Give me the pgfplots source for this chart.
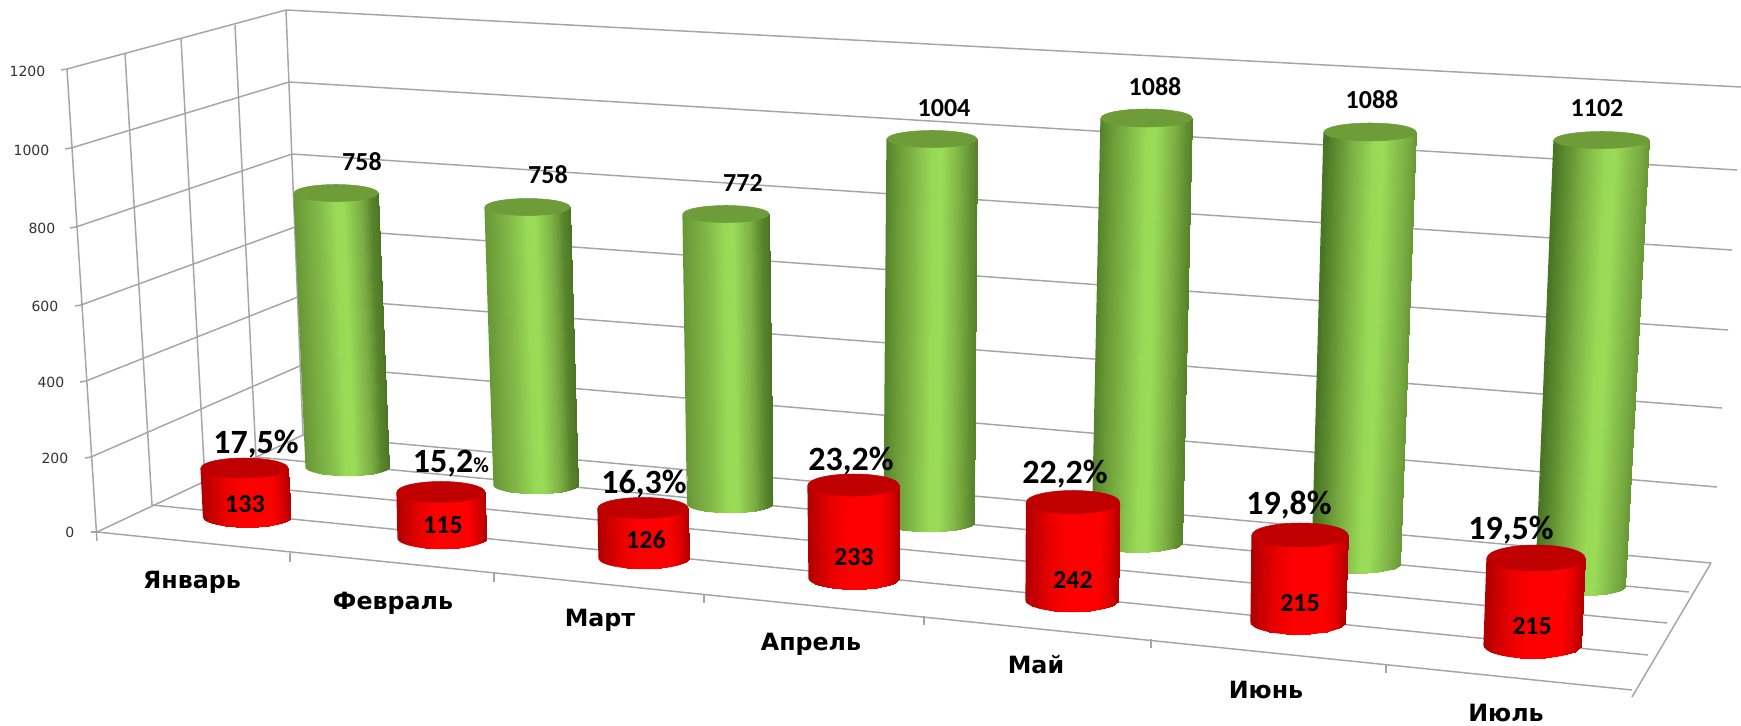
\documentclass[border=0pt]{standalone}
\usepackage{fontspec}
\usepackage{pgfplots}
\usepackage{pgfplotstable}
\pgfplotsset{compat=1.18}
\setmainfont{Carlito}
\newfontfamily\monthfont{DejaVu Sans}[BoldFont={DejaVu Sans Bold}]
\newfontfamily\tickfont{DejaVu Sans}
\definecolor{capgreen}{RGB}{109,156,56}
\definecolor{capred}{RGB}{192,0,0}
\definecolor{gridc}{RGB}{165,165,165}
\pgfplotsset{
 colormap={greenL}{rgb255(0cm)=(104,152,54) rgb255(12cm)=(116,166,62) rgb255(28cm)=(130,185,72) rgb255(48cm)=(152,218,86) rgb255(58cm)=(154,220,88) rgb255(78cm)=(125,176,68) rgb255(92cm)=(88,132,44) rgb255(100cm)=(76,118,38)},
 colormap={greenM}{rgb255(0cm)=(86,132,44) rgb255(12cm)=(106,154,54) rgb255(28cm)=(126,180,70) rgb255(50cm)=(152,218,86) rgb255(60cm)=(154,220,88) rgb255(80cm)=(126,178,68) rgb255(93cm)=(98,144,50) rgb255(100cm)=(88,132,44)},
 colormap={greenR}{rgb255(0cm)=(72,116,36) rgb255(12cm)=(92,138,46) rgb255(30cm)=(122,174,66) rgb255(54cm)=(152,218,86) rgb255(64cm)=(154,220,88) rgb255(84cm)=(130,184,72) rgb255(94cm)=(116,166,62) rgb255(100cm)=(106,154,54)},
 colormap={redcyl}{rgb255(0cm)=(176,0,0) rgb255(10cm)=(200,0,0) rgb255(25cm)=(232,0,0) rgb255(45cm)=(255,0,0) rgb255(78cm)=(255,0,0) rgb255(90cm)=(222,0,0) rgb255(100cm)=(180,0,0)},
}
% v = value, s = pixels per unit at this bar's depth; xt,xb top and base centre; yb base centre; rt,rb radii; ry depth radius
\pgfplotstableread{
v s xt xb yb rt rb ry cm
758 0.36148 336 347.5 467 42 41.5 8.5 greenL
758 0.36675 527.5 536 485 42.5 42 8.5 greenL
772 0.37565 726 730 504 43 42.5 8.5 greenL
1004 0.38247 932 929 523 45 45 8.5 greenM
1088 0.39062 1146.5 1137 543 45.5 45 9 greenM
1088 0.39706 1370 1356 564 46 44 9 greenR
1102 0.40563 1601.5 1580 587 47.5 44.5 8.5 greenR
}\greentbl
\pgfplotstableread{
v s xt xb yb rt rb ry cm
133 0.36842 244.5 247 517 43.5 43.5 10 redcyl
115 0.40000 441 442 538 44 44 10.5 redcyl
126 0.39683 643 644 558 45 45 10.5 redcyl
233 0.39914 853.5 854 578 45.5 45 11 redcyl
242 0.40496 1073 1072 600 46.5 46 11.5 redcyl
215 0.40465 1300 1298 622 48 47 12 redcyl
215 0.40465 1536 1532.5 645 49 48.5 13 redcyl
}\redtbl
\newcommand\drawcyl[3]{%
 \pgfplotstablegetelem{#2}{v}\of{#1}\let\cv\pgfplotsretval
 \pgfplotstablegetelem{#2}{s}\of{#1}\let\cs\pgfplotsretval
 \pgfplotstablegetelem{#2}{xt}\of{#1}\let\cxt\pgfplotsretval
 \pgfplotstablegetelem{#2}{xb}\of{#1}\let\cxb\pgfplotsretval
 \pgfplotstablegetelem{#2}{yb}\of{#1}\let\cyb\pgfplotsretval
 \pgfplotstablegetelem{#2}{rt}\of{#1}\let\crt\pgfplotsretval
 \pgfplotstablegetelem{#2}{rb}\of{#1}\let\crb\pgfplotsretval
 \pgfplotstablegetelem{#2}{ry}\of{#1}\let\cry\pgfplotsretval
 \pgfplotstablegetelem{#2}{cm}\of{#1}\let\ccm\pgfplotsretval
 \pgfmathsetmacro\cyt{\cyb-\cv*\cs}
 \pgfmathsetmacro\xl{\cxt-\crt}%
 \pgfmathsetmacro\xr{\cxt+\crt}%
 \gdef\cdata{}%
 \xdef\cline{(\xl,\cyt)[0] }%
 \pgfplotsforeachungrouped \k in {0,...,23}{%
  \pgfmathsetmacro\tha{-90+7.5*\k}%
  \pgfmathsetmacro\thb{\tha+7.5}%
  \pgfmathsetmacro\ua{sin(\tha)}%
  \pgfmathsetmacro\ub{sin(\thb)}%
  \pgfmathsetmacro\xta{\cxt+\crt*\ua}%
  \pgfmathsetmacro\xtb{\cxt+\crt*\ub}%
  \pgfmathsetmacro\xba{\cxb+\crb*\ua}%
  \pgfmathsetmacro\xbb{\cxb+\crb*\ub}%
  \pgfmathsetmacro\yba{\cyb+\cry*cos(\tha)}%
  \pgfmathsetmacro\ybb{\cyb+\cry*cos(\thb)}%
  \pgfmathsetmacro\ma{(\ua+1)/2}%
  \pgfmathsetmacro\mb{(\ub+1)/2}%
  \xdef\cdata{\cdata (\xta,\cyt)[\ma] (\xtb,\cyt)[\mb] (\xbb,\ybb)[\mb] (\xba,\yba)[\ma] }%
  \xdef\cline{\cline (\xba,\yba)[\ma] }%
 }%
 \pgfmathsetmacro\xe{\cxb+\crb}%
 \xdef\cline{\cline (\xe,\cyb)[1] (\xr,\cyt)[1] }%
 \edef\temp{\noexpand\addplot[patch,patch type=rectangle,shader=interp,colormap name=\ccm,point meta=explicit,point meta min=0,point meta max=1] coordinates {\cdata};}\temp
 \edef\temp{\noexpand\addplot[mesh,line width=0.9pt,colormap name=\ccm,point meta=explicit,point meta min=0,point meta max=1] coordinates {\cline};}\temp
 \pgfmathsetmacro\msize{\crt*0.75}%
 \pgfmathsetmacro\myscale{\cry/\crt}%
 \edef\temp{\noexpand\addplot[only marks,mark=*,mark size=\msize pt,color=#3,mark options={yscale=\myscale,draw=none,fill=#3}] coordinates {(\cxt,\cyt)};}\temp
}
\newcommand\gl[4]{\addplot[gridc,line width=1.1pt,mark=none] coordinates {(#1,#2)(#3,#4)};}
\begin{document}
\begin{tikzpicture}
\useasboundingbox (0,0) rectangle (1305.75pt,543.75pt);
\begin{axis}[at={(0,0)},anchor=south west,x=0.75pt,y=0.75pt,y dir=reverse,
 xmin=0,xmax=1741,ymin=0,ymax=725,axis lines=none,clip=true]
% side wall: horizontal gridlines
\gl{67}{69}{286}{10}
\gl{71}{148}{289}{82}
\gl{76}{227}{292}{154}
\gl{81}{305}{295}{227}
\gl{86}{381}{298}{297}
\gl{91}{457}{302}{365}
\gl{97}{532}{303}{435}
% side wall: verticals
\gl{67}{69}{97}{541}
\gl{125}{53}{152}{505}
\gl{181}{38}{205}{482}
\gl{235}{25}{256}{457}
\gl{286}{10}{303}{435}
% back wall
\gl{286}{10}{1741}{87}
\gl{289}{82}{1737}{170}
\gl{292}{154}{1732}{250}
\gl{295}{227}{1728}{330}
\gl{298}{297}{1722}{408}
\gl{302}{365}{1717}{487}
\gl{303}{435}{1711}{563}
% floor
\gl{97}{532}{1632}{690}
\gl{152}{505}{1648}{655}
\gl{205}{482}{1667}{623}
\gl{256}{457}{1689}{592}
\gl{1632}{697}{1711}{563}
% ticks
\gl{61}{70}{67}{69}
\gl{65}{149}{71}{148}
\gl{70}{228}{76}{227}
\gl{75}{306}{81}{305}
\gl{80}{382}{86}{381}
\gl{85}{458}{91}{457}
\gl{91}{532}{97}{532}
\gl{290}{553}{290}{562}
\gl{494}{573}{494}{582}
\gl{704}{594}{704}{603}
\gl{924}{616}{924}{625}
\gl{1151}{639}{1151}{648}
\gl{1386}{664}{1386}{673}
% green cylinders
\pgfplotsinvokeforeach{0,...,6}{\drawcyl{\greentbl}{#1}{capgreen}}
% tick labels
\node[anchor=east,text=black!80,font=\tickfont\fontsize{10.5}{12}\selectfont] at (axis cs:50,71) {1200};
\node[anchor=east,text=black!80,font=\tickfont\fontsize{10.5}{12}\selectfont] at (axis cs:54,150) {1000};
\node[anchor=east,text=black!80,font=\tickfont\fontsize{10.5}{12}\selectfont] at (axis cs:60,228) {800};
\node[anchor=east,text=black!80,font=\tickfont\fontsize{10.5}{12}\selectfont] at (axis cs:63,306) {600};
\node[anchor=east,text=black!80,font=\tickfont\fontsize{10.5}{12}\selectfont] at (axis cs:69,382) {400};
\node[anchor=east,text=black!80,font=\tickfont\fontsize{10.5}{12}\selectfont] at (axis cs:73,458) {200};
\node[anchor=east,text=black!80,font=\tickfont\fontsize{10.5}{12}\selectfont] at (axis cs:79,532) {0};
% green values
\node[font=\bfseries\fontsize{19.5}{22}\selectfont] at (axis cs:362,162) {758};
\node[font=\bfseries\fontsize{19.5}{22}\selectfont] at (axis cs:548,175) {758};
\node[font=\bfseries\fontsize{19.5}{22}\selectfont] at (axis cs:743,183) {772};
\node[font=\bfseries\fontsize{19.5}{22}\selectfont] at (axis cs:944,108) {1004};
\node[font=\bfseries\fontsize{19.5}{22}\selectfont] at (axis cs:1155,87) {1088};
\node[font=\bfseries\fontsize{19.5}{22}\selectfont] at (axis cs:1372,100) {1088};
\node[font=\bfseries\fontsize{19.5}{22}\selectfont] at (axis cs:1597,108) {1102};
% red cylinders
\pgfplotsinvokeforeach{0,...,6}{\drawcyl{\redtbl}{#1}{capred}}
% red values
\node[font=\bfseries\fontsize{19.5}{22}\selectfont] at (axis cs:245,504) {133};
\node[font=\bfseries\fontsize{19.5}{22}\selectfont] at (axis cs:443,525) {115};
\node[font=\bfseries\fontsize{19.5}{22}\selectfont] at (axis cs:646,540) {126};
\node[font=\bfseries\fontsize{19.5}{22}\selectfont] at (axis cs:854,557) {233};
\node[font=\bfseries\fontsize{19.5}{22}\selectfont] at (axis cs:1073,580) {242};
\node[font=\bfseries\fontsize{19.5}{22}\selectfont] at (axis cs:1300,603) {215};
\node[font=\bfseries\fontsize{19.5}{22}\selectfont] at (axis cs:1532,626) {215};
% shares
\node[font=\bfseries\fontsize{25.5}{28}\selectfont] at (axis cs:256,444) {17,5\%};
\node[font=\bfseries\fontsize{25.5}{28}\selectfont] at (axis cs:451,464) {15,2{\fontsize{16}{18}\selectfont\%}};
\node[font=\bfseries\fontsize{25.5}{28}\selectfont] at (axis cs:644,484) {16,3\%};
\node[font=\bfseries\fontsize{25.5}{28}\selectfont] at (axis cs:851,461) {23,2\%};
\node[font=\bfseries\fontsize{25.5}{28}\selectfont] at (axis cs:1065,474) {22,2\%};
\node[font=\bfseries\fontsize{25.5}{28}\selectfont] at (axis cs:1289,505) {19,8\%};
\node[font=\bfseries\fontsize{25.5}{28}\selectfont] at (axis cs:1511,530) {19,5\%};
% months
\node[font=\monthfont\bfseries\fontsize{17.8}{20}\selectfont] at (axis cs:192,582) {Январь};
\node[font=\monthfont\bfseries\fontsize{17.8}{20}\selectfont] at (axis cs:393,603) {Февраль};
\node[font=\monthfont\bfseries\fontsize{17.8}{20}\selectfont] at (axis cs:600,620) {Март};
\node[font=\monthfont\bfseries\fontsize{17.8}{20}\selectfont] at (axis cs:811,644) {Апрель};
\node[font=\monthfont\bfseries\fontsize{17.8}{20}\selectfont] at (axis cs:1036,665) {Май};
\node[font=\monthfont\bfseries\fontsize{17.8}{20}\selectfont] at (axis cs:1266,690) {Июнь};
\node[font=\monthfont\bfseries\fontsize{17.8}{20}\selectfont,inner sep=1pt] at (axis cs:1506,713) {Июль};
\end{axis}
\end{tikzpicture}
\end{document}
